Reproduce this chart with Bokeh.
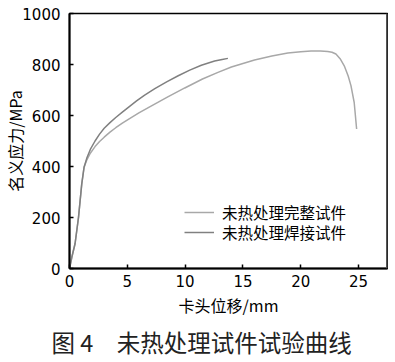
import math
from bokeh.plotting import figure
from bokeh.models import Range1d, Legend, LegendItem, Span, FixedTicker, Title
from bokeh.embed import file_html
from bokeh.resources import INLINE

# Data
intact_x = [0, 0.2, 0.48, 0.78, 1.06, 1.26, 1.49, 1.8, 2.21, 2.6, 3.0, 3.5, 4.0, 4.57, 5.09,
            6.0, 7.09, 8.5, 9.97, 11.5, 12.84, 14.0, 16.0, 17.5, 18.88, 20.0, 20.89, 21.7,
            22.33, 22.7, 23.04, 23.4, 23.76, 24.1, 24.34, 24.62, 24.83]
intact_y = [0, 44, 97, 201, 332, 397, 425, 452, 478, 498, 515, 535, 552, 570, 585,
            610, 638, 673, 708, 743, 769, 790, 818, 833, 845, 850, 853, 853,
            851, 848, 841, 823, 795, 755, 717, 651, 547]
welded_x = [0, 0.2, 0.48, 0.78, 1.06, 1.26, 1.49, 1.8, 2.21, 2.6, 3.0, 3.5, 4.0, 4.57, 5.2,
            5.8, 6.5, 7.38, 8.4, 9.4, 10.4, 11.4, 12.55, 13.2, 13.7]
welded_y = [0, 44, 97, 201, 332, 397, 432, 467, 500, 527, 550, 572, 592, 613, 636,
            657, 680, 705, 732, 756, 778, 797, 814, 820, 824]
x_ticks = [0, 5, 10, 15, 20, 25]
y_ticks = [0, 200, 400, 600, 800, 1000]
legend_labels = ["未热处理完整试件", "未热处理焊接试件"]
x_title = "卡头位移/mm"
y_title = "名义应力/MPa"
caption = "图 4\u3000未热处理试件试验曲线"

cjk = "Noto Sans CJK SC"

p = figure(width=388, height=361, output_backend="svg", toolbar_location=None,
           x_range=Range1d(0, 27.5), y_range=Range1d(0, 1000),
           min_border_left=68, min_border_right=1, min_border_top=13, min_border_bottom=93)
p.grid.visible = False
p.outline_line_color = "black"
p.outline_line_width = 1.5
p.background_fill_color = "white"
p.border_fill_color = "white"

for ax in (p.xaxis[0], p.yaxis[0]):
    ax.axis_line_width = 2
    ax.axis_line_color = "black"
    ax.major_tick_in = 4
    ax.major_tick_out = 0
    ax.major_tick_line_width = 1.5
    ax.minor_tick_line_color = None
    ax.major_label_text_font = "DejaVu Sans"
    ax.major_label_text_font_size = "15px"
    ax.major_label_text_color = "black"
    ax.axis_label_text_font = cjk
    ax.axis_label_text_font_size = "16px"
    ax.axis_label_text_font_style = "normal"
    ax.axis_label_text_color = "black"
p.xaxis[0].ticker = FixedTicker(ticks=x_ticks)
p.yaxis[0].ticker = FixedTicker(ticks=y_ticks)
p.xaxis[0].major_label_standoff = 6
p.yaxis[0].major_label_standoff = 9
p.xaxis[0].axis_label = x_title
p.yaxis[0].axis_label = y_title
p.xaxis[0].axis_label_standoff = 3
p.yaxis[0].axis_label_standoff = -8

r1 = p.line(intact_x, intact_y, line_color="#a8a8a8", line_width=1.5)
r2 = p.line(welded_x, welded_y, line_color="#808080", line_width=1.5)

p.add_layout(Span(location=27.5, dimension="height", line_color="#555555", line_width=3))

for lab, rr, loc in [(legend_labels[0], r1, (115, 45)),
                     (legend_labels[1], r2, (115, 25))]:
    lg = Legend(items=[LegendItem(label=lab, renderers=[rr])],
                location=loc, padding=0, margin=0, spacing=0,
                glyph_width=30, glyph_height=16, label_height=16, label_standoff=8,
                border_line_color=None, background_fill_alpha=0,
                label_text_font=cjk, label_text_font_size="15.5px",
                label_text_color="black")
    p.add_layout(lg)

p.add_layout(Title(text=caption, align="left", offset=-18, standoff=6,
                   text_font=cjk, text_font_size="23.5px", text_font_style="normal",
                   text_color="#222222"), "below")

open("out.html", "w").write(file_html(p, INLINE))
